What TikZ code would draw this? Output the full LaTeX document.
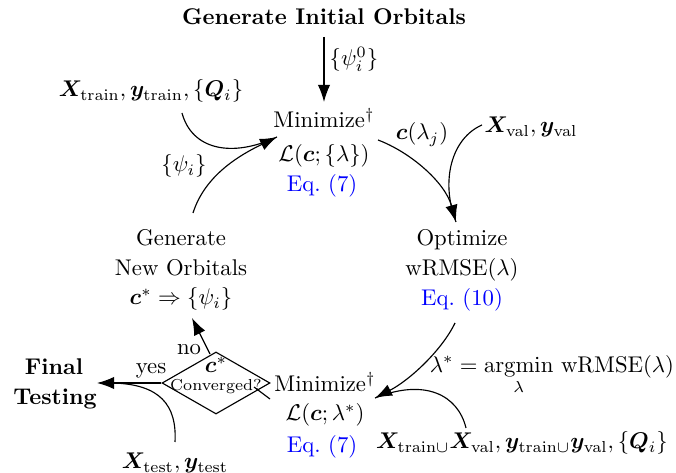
\documentclass[tikz,border=0pt]{standalone}
\usepackage{bm}
\usetikzlibrary{arrows.meta,shapes.geometric}
\begin{document}
\begin{tikzpicture}[x=0.44pt,y=-0.44pt,
  arr/.style={-{Latex[length=7.5pt,width=5.4pt]}, line width=0.5pt},
  con/.style={line width=0.5pt},
  lbl/.style={inner sep=0pt, anchor=base},
  ctr/.style={inner sep=0pt, anchor=center},
  eqref/.style={lbl, text=blue}]
\useasboundingbox (0,0) rectangle (676,473);

% top
\node[lbl] (title) at (324,25) {\textbf{Generate Initial Orbitals}};
\node[ctr] (psi0) at (354,59) {$\{\psi_i^0\}$};
\node[lbl] (min1) at (324,128) {Minimize$^\dagger$};
\node[lbl] (loss1) at (324,162) {$\mathcal{L}(\bm{c};\{\lambda\})$};
\node[eqref] (eq1) at (322,192) {Eq.~(7)};

\node[lbl] (xtrain) at (151,97) {$\bm{X}_{\mathrm{train}}, \bm{y}_{\mathrm{train}}, \{\bm{Q}_i\}$};
\node[ctr] (psi) at (184,166) {$\{\psi_i\}$};
\node[lbl] (clam) at (422,140) {$\bm{c}(\lambda_j)$};
\node[lbl] (xval) at (531,133) {$\bm{X}_{\mathrm{val}}, \bm{y}_{\mathrm{val}}$};

% middle
\node[lbl] (gen1) at (181,246) {Generate};
\node[lbl] (gen2) at (181,276) {New Orbitals};
\node[lbl] (gen3) at (181,305) {$\bm{c}^* \Rightarrow \{\psi_i\}$};
\node[lbl] (opt1) at (462,246) {Optimize};
\node[lbl] (opt2) at (462,276) {wRMSE$(\lambda)$};
\node[eqref] (eq10) at (462,306) {Eq.~(10)};

% bottom
\node[draw, diamond, minimum width=47.5pt, minimum height=27.3pt, inner sep=0pt, line width=0.5pt] (dia) at (216,383) {};
\node[lbl] (cstar) at (216,373) {$\bm{c}^*$};
\node[lbl] (conv) at (216,391) {\scriptsize Converged?};
\node[ctr] (no) at (189,350) {no};
\node[ctr] (yes) at (151,371) {yes};
\node[lbl] (final1) at (54,375) {\textbf{Final}};
\node[lbl] (final2) at (55,405) {\textbf{Testing}};
\node[lbl] (min2) at (325,392) {Minimize$^\dagger$};
\node[lbl] (loss2) at (325,421) {$\mathcal{L}(\bm{c};\lambda^*)$};
\node[eqref] (eq2) at (322,453) {Eq.~(7)};
\node[lbl] (lstar) at (552,373) {$\displaystyle \lambda^* = \mathop{\mathrm{argmin}}\limits_{\lambda}\,\mathrm{wRMSE}(\lambda)$};
\node[lbl] (xall) at (522,449) {$\bm{X}_{\mathrm{train}\cup}\bm{X}_{\mathrm{val}}, \bm{y}_{\mathrm{train}\cup}\bm{y}_{\mathrm{val}}, \{\bm{Q}_i\}$};
\node[lbl] (xtest) at (175,469) {$\bm{X}_{\mathrm{test}}, \bm{y}_{\mathrm{test}}$};

% connector end points
\coordinate (a1) at (324,37);
\coordinate (a2) at (324,102);
\coordinate (s1) at (182,113);
\coordinate (s2) at (193,213);
\coordinate (t1) at (277,137);
\coordinate (s3) at (378,140);
\coordinate (s4) at (482,125);
\coordinate (t3) at (456,222);
\coordinate (s5) at (455,323);
\coordinate (s6) at (466,428);
\coordinate (t5) at (375,398);
\coordinate (s7) at (175,442);
\coordinate (m7) at (112,383);
\coordinate (tyes) at (97,383);
\coordinate (sno) at (210,354);
\coordinate (tno) at (192,318);
\coordinate (l1) at (270,399);
\coordinate (l2) at (254,387);

% connectors
\draw[arr] (a1) -- (a2);
\draw[con] (s1) .. controls (192,150) and (232,158) .. (t1);
\draw[arr] (s2) .. controls (205,175) and (240,155) .. (t1);
\draw[arr] (s3) .. controls (410,152) and (445,182) .. (t3);
\draw[con] (s4) .. controls (452,138) and (440,180) .. (t3);
\draw[arr] (s5) .. controls (442,350) and (410,380) .. (t5);
\draw[con] (s6) .. controls (458,395) and (425,378) .. (t5);
\draw[con] (s7) .. controls (177,405) and (160,384) .. (m7);
\draw[arr] (dia.west) -- (tyes);
\draw[arr] (sno) -- (tno);
\draw[con] (l1) -- (l2);
\end{tikzpicture}
\end{document}
